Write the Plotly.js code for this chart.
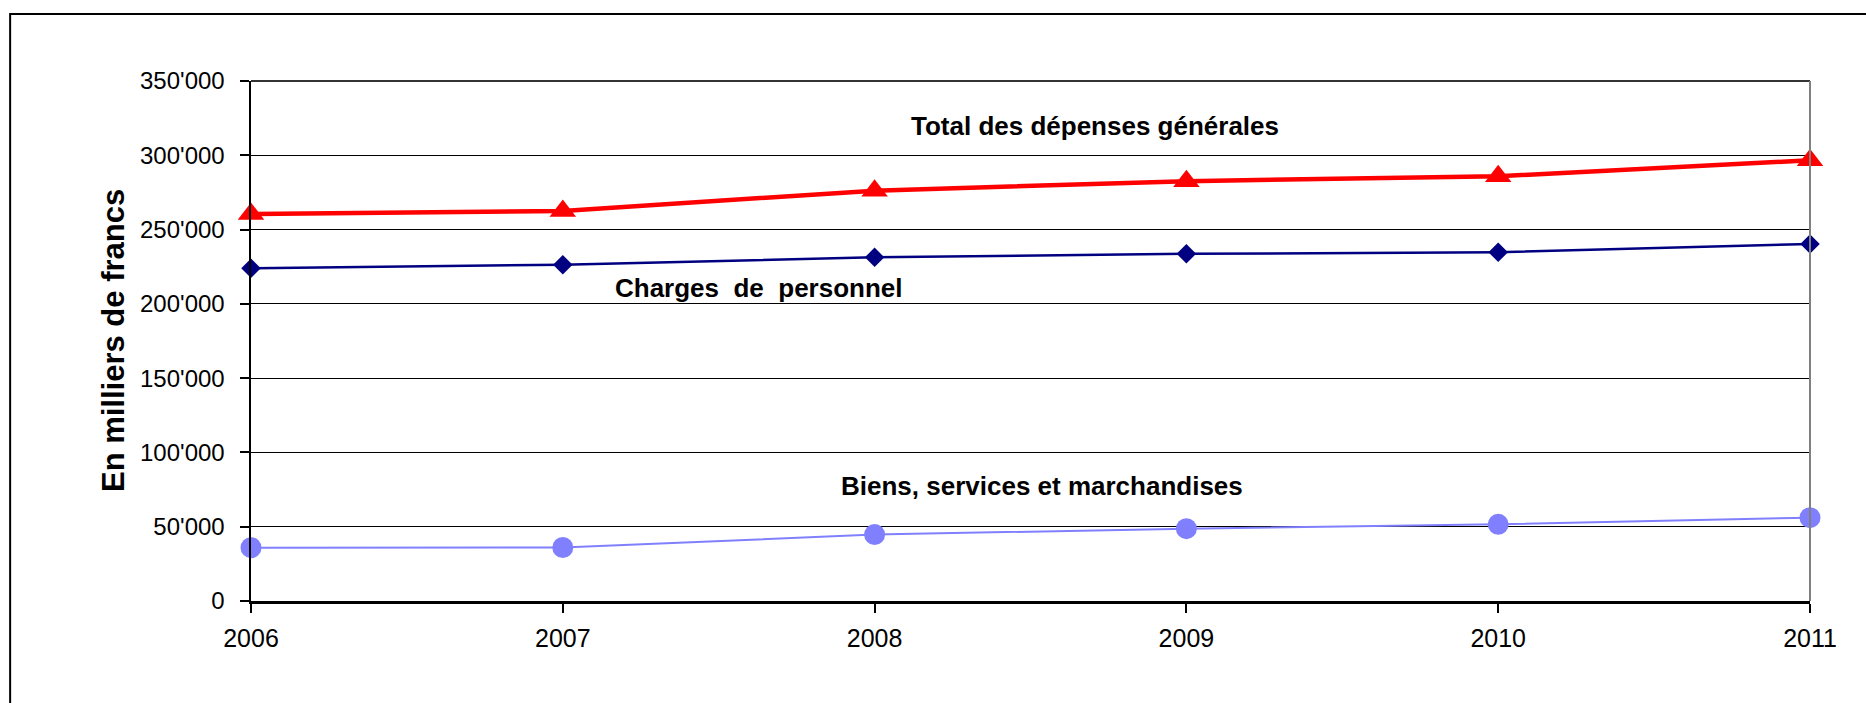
<!DOCTYPE html>
<html>
<head>
<meta charset="utf-8">
<script src="https://cdn.plot.ly/plotly-3.0.1.min.js"></script>
<style>html,body{margin:0;padding:0;background:#fff;}</style>
</head>
<body>
<div id="chart" style="width:1866px;height:703px;"></div>
<script>
var years = [2006, 2007, 2008, 2009, 2010, 2011];
var totalDepenses = [260500, 262500, 276200, 282600, 285900, 296600];
var chargesPersonnel = [223900, 226400, 231300, 233700, 234700, 240300];
var biensServices = [35900, 36000, 44700, 48700, 51600, 56100];
var yTicks = [0, 50000, 100000, 150000, 200000, 250000, 300000, 350000];

var font = 'Arial, "Liberation Sans", sans-serif';

var traces = [
  {x: years, y: biensServices, mode: 'lines+markers', name: 'Biens, services et marchandises',
   line: {color: '#8080FF', width: 2}, marker: {symbol: 'circle', size: 21, color: '#8080FF'}, cliponaxis: false},
  {x: years, y: chargesPersonnel, mode: 'lines+markers', name: 'Charges de personnel',
   line: {color: '#000080', width: 2.5}, marker: {symbol: 'diamond', size: 15, color: '#000080'}, cliponaxis: false},
  {x: years, y: totalDepenses, mode: 'lines+markers', name: 'Total des dépenses générales',
   line: {color: '#FF0000', width: 4.5}, marker: {symbol: 'triangle-up', size: 23, color: '#FF0000'}, cliponaxis: false}
];

var layout = {
  width: 1866, height: 703,
  margin: {l: 251, r: 56, t: 81, b: 102},
  paper_bgcolor: '#ffffff', plot_bgcolor: '#ffffff',
  showlegend: false,
  separators: ".'",
  font: {family: font, color: '#000'},
  xaxis: {
    range: [2006, 2011], tickvals: years, ticktext: years.map(String),
    showgrid: false, zeroline: false,
    showline: true, linecolor: '#000', linewidth: 3,
    ticks: 'outside', ticklen: 9, tickwidth: 2, tickcolor: '#000',
    tickfont: {family: font, size: 25, color: '#000'},
    ticklabelstandoff: 4
  },
  yaxis: {
    range: [0, 350000], tickvals: yTicks, tickformat: ',d',
    showgrid: true, gridcolor: '#000', gridwidth: 1,
    zeroline: false,
    showline: true, linecolor: '#000', linewidth: 2.5,
    ticks: 'outside', ticklen: 9, tickwidth: 2, tickcolor: '#000',
    tickfont: {family: font, size: 24, color: '#000'},
    ticklabelstandoff: 10
  },
  shapes: [
    {type: 'line', xref: 'paper', yref: 'paper', x0: 0, x1: 1, y0: 1, y1: 1, line: {color: '#333', width: 2}},
    {type: 'line', xref: 'paper', yref: 'paper', x0: 1, x1: 1, y0: 0, y1: 1, line: {color: '#808080', width: 2}},
    {type: 'rect', xref: 'paper', yref: 'paper', x0: -0.1545, x1: 1.2, y0: -0.4, y1: 1.1288, line: {color: '#000', width: 2}, layer: 'below'}
  ],
  annotations: [
    {xref: 'paper', yref: 'paper', x: -0.0885, y: 0.5, text: '<b>En milliers de francs</b>', textangle: -90,
     showarrow: false, font: {family: font, size: 31, color: '#000'}, xanchor: 'center', yanchor: 'middle'},
    {xref: 'paper', yref: 'paper', x: 0.5414, y: 0.914, text: '<b>Total des dépenses générales</b>',
     showarrow: false, xanchor: 'center', yanchor: 'middle', font: {family: font, size: 26, color: '#000'}},
    {xref: 'paper', yref: 'paper', x: 0.3259, y: 0.602, text: '<b>Charges\u00a0\u00a0de\u00a0\u00a0personnel</b>',
     showarrow: false, xanchor: 'center', yanchor: 'middle', font: {family: font, size: 26, color: '#000'}},
    {xref: 'paper', yref: 'paper', x: 0.5074, y: 0.222, text: '<b>Biens, services et marchandises</b>',
     showarrow: false, xanchor: 'center', yanchor: 'middle', font: {family: font, size: 26, color: '#000'}}
  ]
};

Plotly.newPlot('chart', traces, layout, {displayModeBar: false, staticPlot: true});
</script>
</body>
</html>
